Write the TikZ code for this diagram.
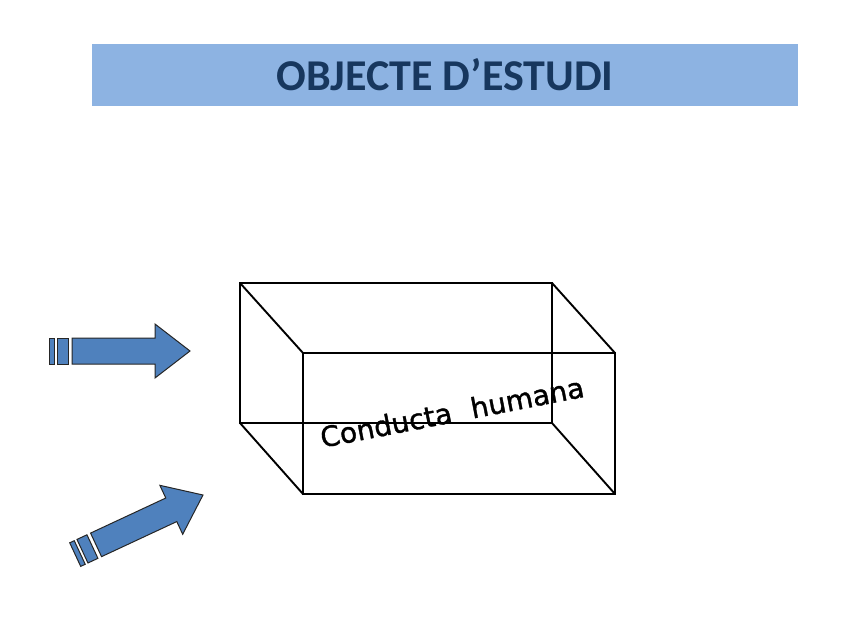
\documentclass[tikz,border=0pt]{standalone}
\usepackage{fontspec}
\setmainfont{Carlito}
\newfontfamily\boxfont{DejaVu Sans}[FakeBold=1.2]
\usetikzlibrary{calc}
\definecolor{bannerblue}{HTML}{8DB3E2}
\definecolor{titlenavy}{HTML}{17375E}
\definecolor{arrowblue}{HTML}{4F81BD}

\tikzset{
  banner/.style={fill=bannerblue, minimum width=706pt, minimum height=62pt, inner sep=0pt,
    text=titlenavy, font=\fontsize{44}{50}\selectfont\bfseries},
  boxedge/.style={draw=black, line width=1.9pt},
  arrowpart/.style={fill=arrowblue, draw=black!85, line width=1pt},
}

% striped block arrow, tip at #1, turned by #2
\newcommand{\stripearrow}[2]{%
  \begin{scope}[shift={#1}, rotate=#2]
    \draw[arrowpart] (-118,-13) -- (-35,-13) -- (-35,-27) -- (0,0) -- (-35,27)
      -- (-35,13) -- (-118,13) -- cycle;
    \draw[arrowpart] (-133,-13) rectangle (-122,13);
    \draw[arrowpart] (-141,-13) rectangle (-136,13);
  \end{scope}}

\begin{document}
\begin{tikzpicture}[x=1pt, y=-1pt]
\useasboundingbox (0,0) rectangle (848,636);

\node (title) [banner] at (445,75) {OBJECTE D’ESTUDI};

% the box
\coordinate (b1) at (240,283);
\coordinate (b2) at (552,283);
\coordinate (b3) at (552,423);
\coordinate (b4) at (240,423);
\coordinate (f1) at (303,353);
\coordinate (f2) at (615,353);
\coordinate (f3) at (615,494);
\coordinate (f4) at (303,494);

\draw[boxedge] (b1) -- (b2) -- (b3) -- (b4) -- cycle;
\draw[boxedge] (f1) -- (f2) -- (f3) -- (f4) -- cycle;
\draw[boxedge] (b1) -- (f1);
\draw[boxedge] (b2) -- (f2);
\draw[boxedge] (b3) -- (f3);
\draw[boxedge] (b4) -- (f4);

\node (label) [rotate=11, font=\boxfont\fontsize{28}{30}\selectfont] at (452,412)
  {Conducta\hspace{0.7em}humana};

% arrows
\stripearrow{(190,351)}{0}
\stripearrow{(203,495)}{25}
\end{tikzpicture}
\end{document}
